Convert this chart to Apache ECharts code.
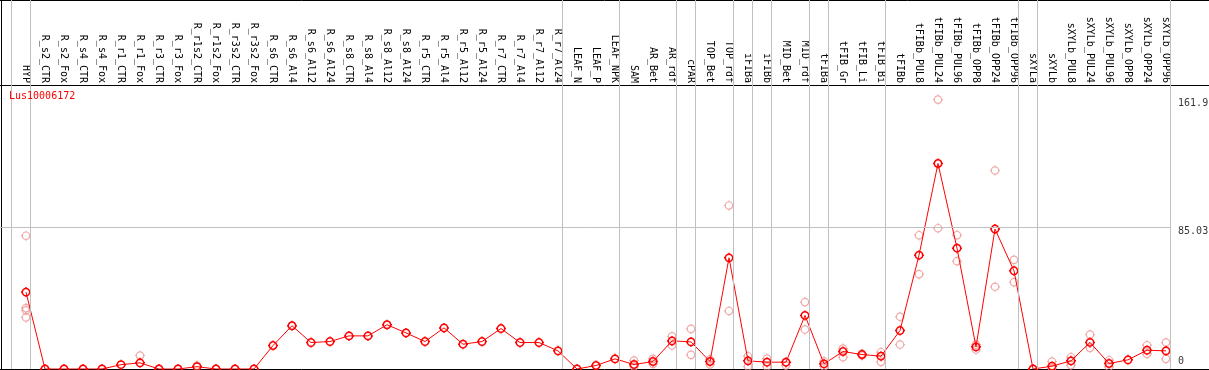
<!DOCTYPE html>
<html>
<head>
<meta charset="utf-8">
<script src="https://cdn.jsdelivr.net/npm/echarts@6/dist/echarts.min.js"></script>
<style>
html,body{margin:0;padding:0;background:#fff;}
#c{width:1209px;height:370px;}
</style>
</head>
<body>
<div id="c"></div>
<script>
const geneId = 'Lus10006172';

const categories = [
  'HYP',
  'R_s2_CTR','R_s2_Fox','R_s4_CTR','R_s4_Fox','R_r1_CTR','R_r1_Fox','R_r3_CTR','R_r3_Fox',
  'R_r1s2_CTR','R_r1s2_Fox','R_r3s2_CTR','R_r3s2_Fox',
  'R_s6_CTR','R_s6_Al4','R_s6_Al12','R_s6_Al24','R_s8_CTR','R_s8_Al4','R_s8_Al12','R_s8_Al24',
  'R_r5_CTR','R_r5_Al4','R_r5_Al12','R_r5_Al24','R_r7_CTR','R_r7_Al4','R_r7_Al12','R_r7_Al24',
  'LEAF_N','LEAF_P','LEAF_NPK','SAM','AR_Bet','AR_rdf','cPAR','TOP_Bet','TOP_rdf',
  'iFIBa','iFIBb','MID_Bet','MID_rdf','tFIBa','tFIB_Gr','tFIB_Li','tFIB_Bi',
  'tFIBb','tFIBb_PUL8','tFIBb_PUL24','tFIBb_PUL96','tFIBb_OPP8','tFIBb_OPP24','tFIBb_OPP96',
  'sXYLa','sXYLb','sXYLb_PUL8','sXYLb_PUL24','sXYLb_PUL96','sXYLb_OPP8','sXYLb_OPP24','sXYLb_OPP96'
];

const meanValues = [
  46.2,
  0, 0, 0, 0, 2.6, 3.7, 0, 0,
  1.4, 0, 0, 0,
  14.1, 26.0, 15.9, 16.5, 19.9, 19.9, 26.6, 21.7,
  16.5, 24.7, 14.9, 16.5, 24.3, 15.9, 15.9, 10.9,
  0, 2.1, 6.1, 2.7, 4.5, 16.9, 16.3, 4.5, 66.8,
  4.9, 4.1, 4.1, 32.2, 3.1, 10.5, 8.7, 7.7,
  23.1, 68.4, 123.5, 72.6, 13.3, 84.1, 59.0,
  0, 1.7, 4.9, 16.0, 3.3, 5.5, 11.3, 10.9
];

const replicateValues = [
  [80.1, 36.6, 35.3, 31.0],
  [], [], [], [], [], [8.1], [], [],
  [2.1], [], [], [],
  [], [], [], [], [], [], [], [],
  [], [], [], [], [], [], [], [],
  [], [], [], [5.1, 1.5], [6.1, 3.1], [19.6, 14.1], [24.1, 8.5], [5.9, 2.7], [98.3, 34.9],
  [7.7, 1.5], [6.3, 1.5], [3.9, 2.1], [40.2, 23.7], [4.7, 1.5], [12.3, 7.1], [9.1, 8.1], [10.1, 4.3],
  [31.4, 14.7], [80.4, 57.0], [161.9, 84.6], [80.4, 64.8], [14.7, 11.7], [119.3, 49.4], [65.6, 52.2],
  [], [4.5, 0.3], [7.1, 2.3], [20.7, 12.7], [5.3, 1.3], [], [14.3, 9.1], [15.9, 6.1]
];

const yTickValues = [0, 85.03, 161.9];
const gridLineValue = 85.03;
// index of the last category of each group (separators drawn after them)
const groupLastIndex = [-1, 0, 28, 31, 34, 35, 37, 38, 39, 41, 42, 45, 52, 53, 60];

const MONO = 'DejaVu Sans Mono';
const X_MIN = -2, X_MAX = 63, Y_MAX = 221.75;
const SEP_OFFSET = 0.24;
const sepPos = i => i + SEP_OFFSET;
const lastSep = sepPos(categories.length - 1);

// ring marker with four small ticks, like the original plot's markers
const RING = 'path://M8.7,5A3.7,3.7,0,1,1,1.3,5A3.7,3.7,0,1,1,8.7,5Z' +
  'M5,0L5,1.3M5,8.7L5,10M0,5L1.3,5M8.7,5L10,5';

const meanData = meanValues.map((v, i) => [i, v]);
const repData = [];
replicateValues.forEach((arr, i) => arr.forEach(v => repData.push([i, v])));

const tickLabelData = yTickValues.map(v => ({
  value: [lastSep, v],
  label: v === 0
    ? { position: [8, -2], verticalAlign: 'bottom' }
    : { position: [8, -1], verticalAlign: 'top' }
}));

const chart = echarts.init(document.getElementById('c'), null, { renderer: 'canvas' });

const borderAxis = (pos, extra) => Object.assign({
  type: 'value', min: X_MIN, max: X_MAX, position: pos,
  axisLine: { show: true, onZero: false, lineStyle: { color: '#000', width: 1 } },
  axisTick: { show: false }, axisLabel: { show: false }, splitLine: { show: false }
}, extra || {});

const option = {
  animation: false,
  backgroundColor: '#fff',
  title: {
    text: geneId, left: 9, top: 91, padding: 0,
    textStyle: { color: '#ff0000', fontSize: 10, fontFamily: MONO, fontWeight: 'normal' }
  },
  grid: { left: -12, right: -14, top: 0, bottom: 1, containLabel: false, outerBoundsMode: 'none' },
  xAxis: [
    borderAxis('bottom'),
    borderAxis('top'),
    borderAxis('top', {
      offset: -85, interval: 1,
      axisLabel: {
        show: true, rotate: 90, margin: 2, fontFamily: MONO, fontSize: 10, color: '#000',
        formatter: v => categories[Math.round(v)] || ''
      }
    })
  ],
  yAxis: {
    type: 'value', min: 0, max: Y_MAX, position: 'left', offset: -13,
    axisLine: { show: true, onZero: false, lineStyle: { color: '#000', width: 1 } },
    axisTick: { show: false }, axisLabel: { show: false }, splitLine: { show: false }
  },
  series: [
    {
      type: 'scatter', name: 'ticks', z: 1, silent: true,
      symbol: 'circle', symbolSize: 1,
      itemStyle: { color: 'rgba(0,0,0,0)' },
      data: tickLabelData,
      label: {
        show: true, align: 'left', fontFamily: MONO, fontSize: 10, color: '#000',
        formatter: p => String(p.value[1])
      },
      markLine: {
        silent: true, symbol: 'none', animation: false,
        label: { show: false },
        lineStyle: { color: '#c0c0c0', width: 1, type: 'solid' },
        data: groupLastIndex.map(i => ({ xAxis: sepPos(i) })).concat([
          [{ coord: [X_MIN, gridLineValue] }, { coord: [lastSep, gridLineValue] }]
        ])
      }
    },
    {
      type: 'scatter', name: 'replicates', z: 2, silent: true,
      symbol: RING, symbolSize: 10,
      itemStyle: { color: 'rgba(0,0,0,0)', borderColor: '#ee9494', borderWidth: 1.2 },
      data: repData
    },
    {
      type: 'line', name: 'mean', z: 3, silent: true,
      symbol: RING, symbolSize: 10, showAllSymbol: true,
      itemStyle: { color: 'rgba(0,0,0,0)', borderColor: '#ff0000', borderWidth: 1.5 },
      lineStyle: { color: '#ff0000', width: 1 },
      data: meanData
    }
  ]
};
chart.setOption(option);
</script>
</body>
</html>
